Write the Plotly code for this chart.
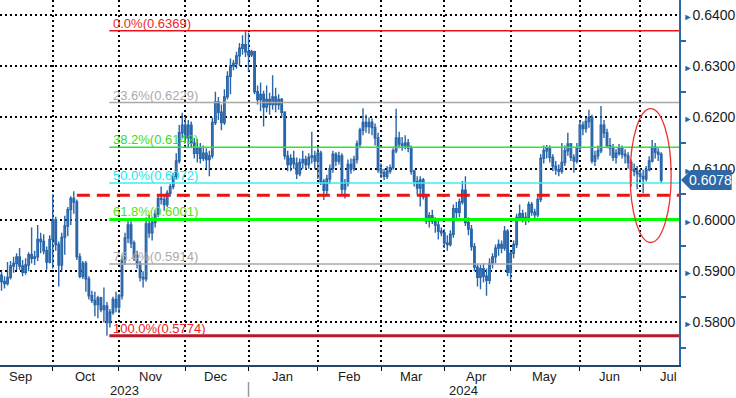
import numpy as np
import pandas as pd
import plotly.graph_objects as go

# ---------------- data (prices in pips, 1 pip = 0.0001) ----------------
start_date = "2023-09-07"
end_date = "2024-07-10"
first_open_pips = 5892

close_pips = [
    5880, 5876, 5888, 5910, 5915, 5928, 5910, 5898, 5912, 5932, 5925, 5928, 5962, 5958, 5940, 5918, 5962,
    6000, 5952, 5912, 5966, 5988, 6020, 6042, 6035, 5928, 5890, 5915, 5885, 5852, 5843, 5835, 5848, 5825, 5832, 5800, 5820, 5845, 5830,
    5852, 5922, 5965, 5990, 5955, 5930, 5915, 5888, 5885, 5992, 5975, 5995, 6012, 6042, 6040, 6030, 6052, 6065, 6085, 6115, 6170, 6185,
    6160, 6185, 6150, 6130, 6140, 6120, 6130, 6118, 6125, 6190, 6230, 6210, 6190, 6240, 6280, 6300, 6305, 6320, 6335, 6342, 6328,
    6322, 6328, 6250, 6235, 6245, 6220, 6235, 6225, 6240, 6225, 6235, 6210, 6125, 6108, 6120, 6110, 6090, 6112, 6118, 6108, 6122, 6125, 6115,
    6130, 6075, 6058, 6080, 6100, 6128, 6115, 6125, 6060, 6072, 6108, 6100, 6118, 6148, 6175, 6190, 6182, 6190, 6180, 6160, 6098,
    6092, 6085, 6095, 6102, 6135, 6160, 6148, 6145, 6150, 6140, 6095, 6075, 6062, 6078, 6045, 5998, 6008, 5998, 5990, 5978, 5975,
    5955, 5952, 5972, 6022, 6015, 6035, 6058, 5995, 5982, 5948, 5908, 5888, 5905, 5890, 5882, 5915, 5928, 5945, 5952, 5945, 5978, 5898,
    5935, 5952, 6005, 6012, 6005, 6000, 6030, 6015, 6010, 6040, 6120, 6135, 6140, 6122, 6105, 6098, 6095, 6112, 6135, 6148, 6122, 6115, 6140,
    6185, 6178, 6192, 6200, 6115, 6125, 6135, 6185, 6170, 6145, 6140, 6122, 6130, 6140, 6128, 6125, 6112, 6098, 6095, 6090,
    6085, 6080, 6098, 6115, 6142, 6132, 6128, 6078,
]
high_pips = [
    5900, 5890, 5918, 5920, 5928, 5935, 5945, 5922, 5925, 5937, 5985, 5940, 5990, 5975, 5972, 5948, 5970,
    6050, 6006, 5958, 5975, 6008, 6025, 6046, 6056, 6040, 5935, 5920, 5920, 5890, 5862, 5860, 5852, 5850, 5868, 5840, 5826, 5850, 5860,
    5856, 5930, 5975, 6003, 5998, 5960, 5940, 5920, 5900, 6005, 6010, 6005, 6020, 6050, 6065, 6050, 6058, 6070, 6092, 6130, 6185, 6209,
    6200, 6195, 6192, 6160, 6158, 6150, 6145, 6140, 6135, 6200, 6250, 6240, 6225, 6255, 6290, 6315, 6312, 6328, 6345, 6360, 6369,
    6365, 6332, 6330, 6262, 6268, 6252, 6262, 6248, 6282, 6258, 6245, 6238, 6212, 6135, 6128, 6135, 6122, 6120, 6135, 6125, 6130, 6172, 6135,
    6140, 6135, 6080, 6088, 6108, 6135, 6132, 6133, 6130, 6080, 6118, 6120, 6125, 6155, 6180, 6218, 6205, 6200, 6198, 6188, 6170,
    6110, 6100, 6105, 6108, 6140, 6217, 6172, 6162, 6165, 6158, 6145, 6098, 6085, 6085, 6082, 6048, 6015, 6020, 6005, 5998, 5985,
    5982, 5970, 5980, 6030, 6035, 6042, 6076, 6085, 6005, 5990, 5955, 5915, 5912, 5915, 5905, 5925, 5935, 5952, 5962, 5960, 5988, 5982,
    5940, 5960, 6012, 6030, 6020, 6015, 6036, 6035, 6022, 6045, 6128, 6145, 6146, 6145, 6128, 6115, 6108, 6150, 6145, 6170, 6150, 6128, 6150,
    6195, 6192, 6200, 6215, 6205, 6135, 6145, 6222, 6195, 6178, 6160, 6148, 6138, 6148, 6145, 6138, 6132, 6118, 6110, 6105,
    6100, 6098, 6105, 6124, 6156, 6150, 6140, 6132,
]
low_pips = [
    5862, 5866, 5872, 5884, 5897, 5902, 5903, 5890, 5893, 5900, 5915, 5912, 5920, 5935, 5933, 5903, 5915,
    5905, 5940, 5870, 5900, 5932, 5968, 5990, 6012, 5922, 5886, 5885, 5860, 5845, 5838, 5812, 5808, 5820, 5800, 5774, 5790, 5815, 5820,
    5818, 5845, 5912, 5955, 5945, 5920, 5905, 5880, 5868, 5880, 5965, 5960, 5985, 6005, 6030, 6018, 6025, 6045, 6060, 6080, 6110, 6160,
    6150, 6140, 6140, 6120, 6112, 6110, 6115, 6100, 6085, 6120, 6185, 6195, 6175, 6185, 6235, 6245, 6292, 6295, 6300, 6322, 6318,
    6290, 6318, 6245, 6225, 6212, 6182, 6210, 6205, 6215, 6210, 6215, 6200, 6118, 6095, 6095, 6100, 6080, 6085, 6100, 6098, 6100, 6110, 6100,
    6080, 6068, 6039, 6050, 6070, 6092, 6105, 6108, 6050, 6042, 6065, 6090, 6095, 6110, 6140, 6165, 6170, 6168, 6165, 6145, 6092,
    6082, 6078, 6080, 6090, 6098, 6130, 6140, 6135, 6138, 6132, 6088, 6065, 6050, 6026, 6040, 5992, 5985, 5992, 5975, 5962, 5968,
    5945, 5940, 5948, 5965, 5998, 6005, 6030, 5988, 5970, 5940, 5900, 5870, 5865, 5878, 5852, 5875, 5905, 5915, 5930, 5935, 5940, 5890,
    5884, 5925, 5945, 5998, 5995, 5990, 5995, 6008, 6000, 6005, 6035, 6110, 6120, 6112, 6095, 6088, 6085, 6090, 6105, 6125, 6115, 6092, 6110,
    6135, 6165, 6170, 6180, 6110, 6105, 6118, 6130, 6160, 6140, 6125, 6115, 6110, 6125, 6120, 6110, 6100, 6065, 6085, 6060,
    6075, 6052, 6075, 6095, 6112, 6120, 6115, 6072,
]

month_names = ["Sep", "Oct", "Nov", "Dec", "Jan", "Feb", "Mar", "Apr", "May", "Jun", "Jul"]
year_names = ["2023", "2024"]
fib_names = ["0.0%", "23.6%", "38.2%", "50.0%", "61.8%", "76.4%", "100.0%"]
fib_values = [0.6369, 0.6229, 0.6142, 0.6072, 0.6001, 0.5914, 0.5774]
support_level = 0.6048
price_ticks = [0.58, 0.59, 0.60, 0.61, 0.62, 0.63, 0.64]
price_minor = [0.575, 0.585, 0.595, 0.605, 0.615, 0.625, 0.635]

# ---------------- styles ----------------
W, H = 736, 398
ML, MR, MT, MB = 0, 53, 0, 33
PW, PH = W - ML - MR, H - MT - MB
X_MIN, X_MAX = -0.5, 224.9
Y_MIN, Y_MAX = 0.5717, 0.6429
BLUE = "#2a66aa"
AXIS_BLUE = "#2c66a6"
FONT = "Liberation Sans, Arial, sans-serif"
fib_line_colors = ["#e8141b", "#a9a9a9", "#2ee62e", "#38eef2", "#00ff00", "#a9a9a9", "#b51a2c"]
fib_line_widths = [1.5, 1.5, 1.5, 1.5, 3, 1.5, 3]
fib_text_colors = ["#f0262a", "#ababab", "#3ddc1e", "#22e6ee", "#5cdc10", "#ababab", "#ee2222"]

# ---------------- derived ----------------
dates = pd.bdate_range(start_date, end_date)
n = len(dates)
pos = np.arange(n)
close = np.array(close_pips) / 1e4
high = np.array(high_pips) / 1e4
low = np.array(low_pips) / 1e4
open_ = np.concatenate([[first_open_pips / 1e4], close[:-1]])

# calendar for month labels (full months)
cal = pd.bdate_range("2023-09-01", "2024-07-31")
offset = int(np.where(cal == dates[0])[0][0])
cal_pos = np.arange(len(cal)) - offset
periods = cal.to_period("M")
uniq = periods.unique()
month_first = [cal_pos[periods == p].min() for p in uniq]
month_last = [cal_pos[periods == p].max() for p in uniq]
month_mid = [min((a + b) / 2 + 0.25, X_MAX - 3.6) for a, b in zip(month_first, month_last)]
grid_x = [m for m in month_first if m >= 0]
year_start = [cal_pos[(cal.year == 2024)].min()]
year_mid = [(X_MIN + year_start[0]) / 2, (year_start[0] + X_MAX) / 2]

fig = go.Figure()
fig.add_trace(go.Candlestick(
    x=pos, open=open_, high=high, low=low, close=close,
    increasing=dict(line=dict(color=BLUE, width=1.4), fillcolor="white"),
    decreasing=dict(line=dict(color=BLUE, width=1.4), fillcolor=BLUE),
    whiskerwidth=0, hoverinfo="skip",
))

shapes = []
annotations = []
i_low = int(np.argmin(low))
i_peak = int(np.argmax(high[:i_low]))

# support dashed line
shapes.append(dict(type="line", xref="x", yref="y", x0=pos[i_peak] + 1, x1=X_MAX,
                   y0=support_level, y1=support_level,
                   line=dict(color="#ee1111", width=3, dash="13px,7px")))

# fibonacci levels
for name, val, lc, lw, tc in zip(fib_names, fib_values, fib_line_colors, fib_line_widths, fib_text_colors):
    shapes.append(dict(type="line", xref="x", yref="y", x0=pos[i_low] + 0.8, x1=X_MAX,
                       y0=val, y1=val, line=dict(color=lc, width=lw)))
    annotations.append(dict(x=pos[i_low] + 1.3, y=val, xref="x", yref="y",
                            text=f"{name}({val:.4f})", showarrow=False,
                            xanchor="left", yanchor="bottom", yshift=-2,
                            font=dict(family=FONT, size=13, color=tc)))

# highlight ellipse around the last candles
k = 11
shapes.append(dict(type="circle", xref="x", yref="y",
                   x0=pos[-k] - 0.3, x1=pos[-1] + 3.3,
                   y0=low[-k:].min() - 0.0096, y1=high[-k:].max() + 0.0061,
                   line=dict(color="#f03030", width=1.3)))

# month labels and years
for name, xm in zip(month_names, month_mid):
    annotations.append(dict(x=xm, y=-11 / PH, xref="x", yref="paper", text=name,
                            showarrow=False, xanchor="center", yanchor="middle",
                            font=dict(family=FONT, size=13, color="#1a1a1a")))
for name, xm in zip(year_names, year_mid):
    annotations.append(dict(x=xm, y=-25 / PH, xref="x", yref="paper", text=name,
                            showarrow=False, xanchor="center", yanchor="middle",
                            font=dict(family=FONT, size=13, color="#1a1a1a")))
shapes.append(dict(type="line", xref="x", yref="paper", x0=year_start[0], x1=year_start[0],
                   y0=-17 / PH, y1=-32 / PH, line=dict(color="#9a9a9a", width=1.5)))

# last price tag
last = close[-1]
yc = (last - Y_MIN) / (Y_MAX - Y_MIN)
hh = 10 / PH
x_tip = 685 / PW
x_body = 695 / PW
x_right = W / PW
shapes.append(dict(type="path", xref="paper", yref="paper",
                   path=f"M {x_tip},{yc} L {x_body},{yc + hh} L {x_right},{yc + hh} "
                        f"L {x_right},{yc - hh} L {x_body},{yc - hh} Z",
                   fillcolor="#2e68a6", line=dict(width=0)))
annotations.append(dict(x=(x_body + x_right) / 2 - 1 / PW, y=yc, xref="paper", yref="paper",
                        text=f"{last:.4f}", showarrow=False, xanchor="center", yanchor="middle",
                        font=dict(family=FONT, size=14, color="white")))

tick_text = [f"<span style='font-size:9px;color:{AXIS_BLUE}'>►</span>{v:.4f}" for v in price_ticks]

fig.update_layout(
    width=W, height=H, margin=dict(l=ML, r=MR, t=MT, b=MB),
    paper_bgcolor="white", plot_bgcolor="white", showlegend=False,
    font=dict(family=FONT, size=13, color="#1a1a1a"),
    shapes=shapes, annotations=annotations,
    xaxis=dict(range=[X_MIN, X_MAX], rangeslider=dict(visible=False),
               tickmode="array", tickvals=grid_x, ticktext=[""] * len(grid_x),
               ticks="outside", ticklen=4, tickcolor="#000000",
               showgrid=True, gridcolor="#000000", griddash="1.5px,3.5px", gridwidth=1.5,
               showline=True, linecolor="#24466e", linewidth=1.5, zeroline=False),
    yaxis=dict(side="right", range=[Y_MIN, Y_MAX],
               tickmode="array", tickvals=price_ticks, ticktext=tick_text, ticks="",
               tickfont=dict(family=FONT, size=14, color="#1a1a1a"),
               showgrid=True, gridcolor="#000000", griddash="1.5px,3.5px", gridwidth=1.5,
               showline=True, linecolor=AXIS_BLUE, linewidth=1.5, zeroline=False,
               minor=dict(tickvals=price_minor, ticks="outside", ticklen=5,
                          tickcolor=AXIS_BLUE, tickwidth=1.5, showgrid=False)),
)

fig.write_html("out.html")
